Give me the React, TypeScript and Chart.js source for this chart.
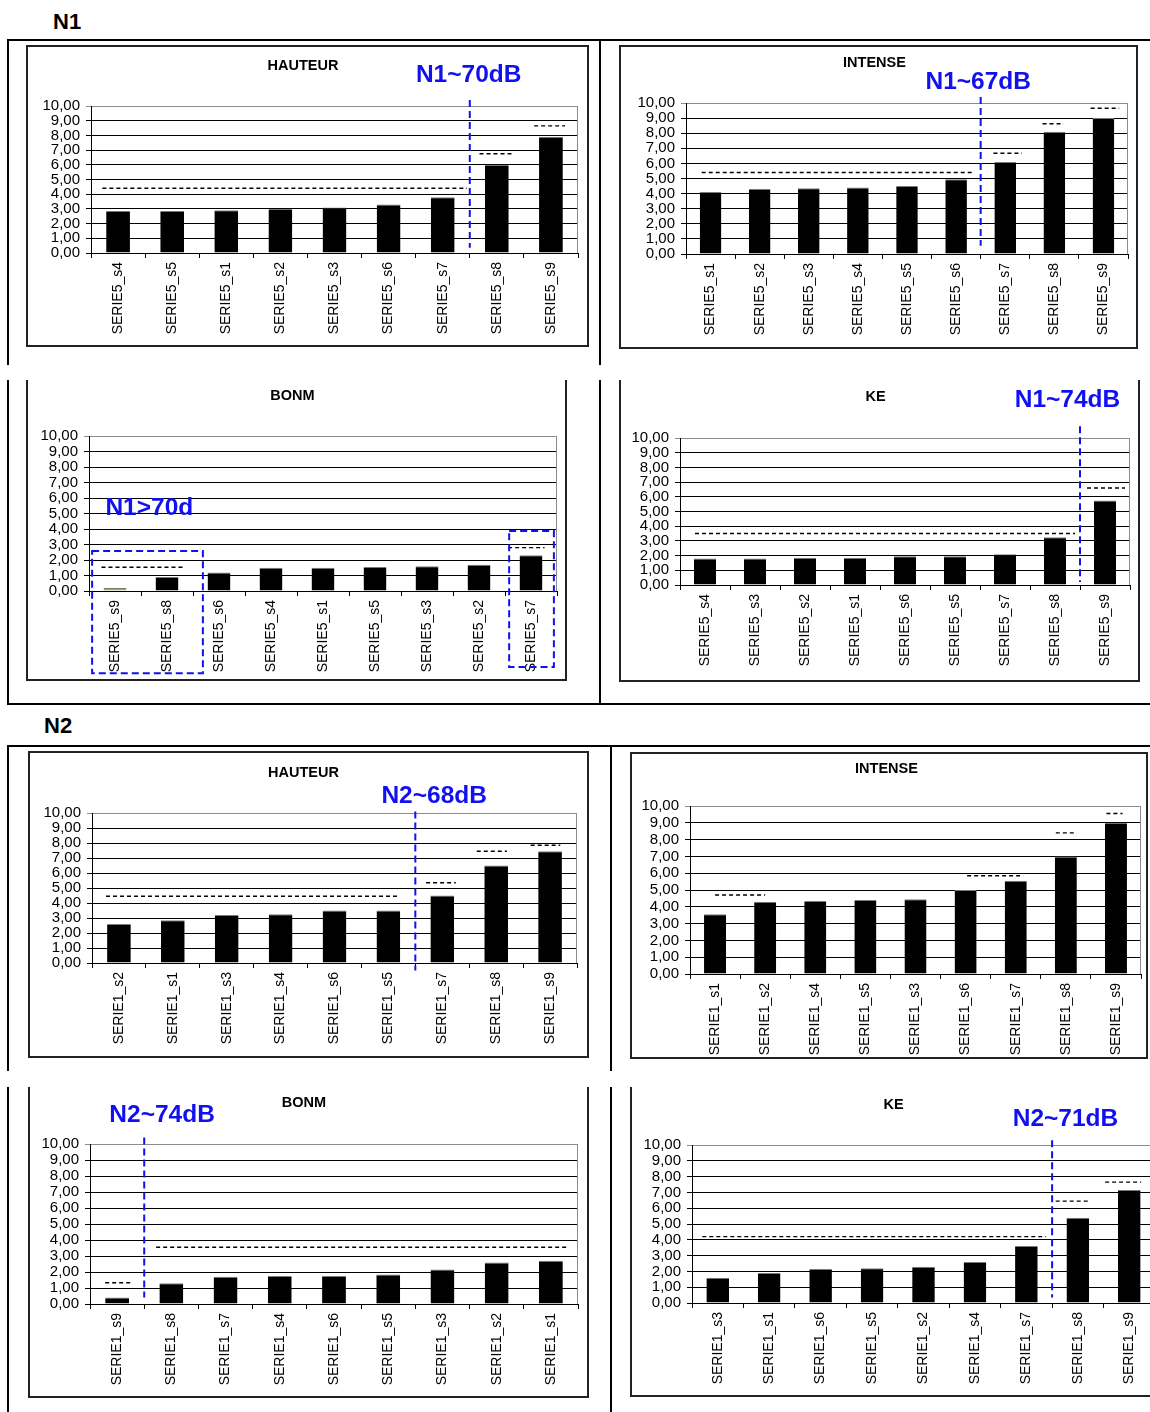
import React, { useEffect, useRef } from "react";
import { Chart, registerables } from "chart.js";
Chart.register(...registerables);

const FONT = "'Liberation Sans', Arial, Helvetica, sans-serif";

// ---------------- data ----------------
const Y_MIN = 0;
const Y_MAX = 10;
const Y_STEP = 1;

// N1 – HAUTEUR
const N1_HAUTEUR_LABELS = ["SERIE5_s4", "SERIE5_s5", "SERIE5_s1", "SERIE5_s2", "SERIE5_s3", "SERIE5_s6", "SERIE5_s7", "SERIE5_s8", "SERIE5_s9"];
const N1_HAUTEUR_VALUES = [2.85, 2.85, 2.9, 3.0, 3.1, 3.3, 3.8, 6.0, 7.9];
const N1_HAUTEUR_MEANS: [number, number, number][] = [[0.21, 6.95, 4.4], [7.18, 7.77, 6.75], [8.19, 8.76, 8.65]];
const N1_HAUTEUR_CUT = 7;
const N1_HAUTEUR_NOTE = "N1~70dB";

// N1 – INTENSE
const N1_INTENSE_LABELS = ["SERIE5_s1", "SERIE5_s2", "SERIE5_s3", "SERIE5_s4", "SERIE5_s5", "SERIE5_s6", "SERIE5_s7", "SERIE5_s8", "SERIE5_s9"];
const N1_INTENSE_VALUES = [4.1, 4.3, 4.35, 4.4, 4.5, 4.95, 6.1, 8.1, 9.0];
const N1_INTENSE_MEANS: [number, number, number][] = [[0.32, 5.82, 5.4], [6.26, 6.84, 6.67], [7.26, 7.69, 8.63], [8.24, 8.82, 9.65]];
const N1_INTENSE_CUT = 6;
const N1_INTENSE_NOTE = "N1~67dB";

// N1 – BONM
const N1_BONM_LABELS = ["SERIE5_s9", "SERIE5_s8", "SERIE5_s6", "SERIE5_s4", "SERIE5_s1", "SERIE5_s5", "SERIE5_s3", "SERIE5_s2", "SERIE5_s7"];
const N1_BONM_VALUES = [0.2, 0.9, 1.2, 1.5, 1.5, 1.55, 1.6, 1.7, 2.3];
const N1_BONM_COLORS = ["#a3b32a", "#000", "#000", "#000", "#000", "#000", "#000", "#000", "#000"];
const N1_BONM_MEANS: [number, number, number][] = [[0.24, 1.81, 1.53], [8.06, 8.76, 2.8]];
const N1_BONM_NOTE = "N1>70d";

// N1 – KE
const N1_KE_LABELS = ["SERIE5_s4", "SERIE5_s3", "SERIE5_s2", "SERIE5_s1", "SERIE5_s6", "SERIE5_s5", "SERIE5_s7", "SERIE5_s8", "SERIE5_s9"];
const N1_KE_VALUES = [1.8, 1.8, 1.85, 1.85, 1.95, 1.95, 2.1, 3.25, 5.75];
const N1_KE_MEANS: [number, number, number][] = [[0.3, 7.9, 3.5], [8.14, 8.9, 6.6]];
const N1_KE_CUT = 8;
const N1_KE_NOTE = "N1~74dB";

// N2 – HAUTEUR
const N2_HAUTEUR_LABELS = ["SERIE1_s2", "SERIE1_s1", "SERIE1_s3", "SERIE1_s4", "SERIE1_s6", "SERIE1_s5", "SERIE1_s7", "SERIE1_s8", "SERIE1_s9"];
const N2_HAUTEUR_VALUES = [2.6, 2.85, 3.2, 3.25, 3.5, 3.5, 4.5, 6.5, 7.45];
const N2_HAUTEUR_MEANS: [number, number, number][] = [[0.26, 5.69, 4.45], [6.2, 6.75, 5.35], [7.14, 7.7, 7.45], [8.14, 8.69, 7.85]];
const N2_HAUTEUR_CUT = 6;
const N2_HAUTEUR_NOTE = "N2~68dB";

// N2 – INTENSE
const N2_INTENSE_LABELS = ["SERIE1_s1", "SERIE1_s2", "SERIE1_s4", "SERIE1_s5", "SERIE1_s3", "SERIE1_s6", "SERIE1_s7", "SERIE1_s8", "SERIE1_s9"];
const N2_INTENSE_VALUES = [3.55, 4.3, 4.35, 4.4, 4.45, 5.0, 5.55, 7.0, 9.0];
const N2_INTENSE_MEANS: [number, number, number][] = [[0.5, 1.5, 4.7], [5.53, 6.65, 5.85], [7.3, 7.72, 8.4], [8.31, 8.63, 9.55]];

// N2 – BONM
const N2_BONM_LABELS = ["SERIE1_s9", "SERIE1_s8", "SERIE1_s7", "SERIE1_s4", "SERIE1_s6", "SERIE1_s5", "SERIE1_s3", "SERIE1_s2", "SERIE1_s1"];
const N2_BONM_VALUES = [0.4, 1.3, 1.7, 1.75, 1.75, 1.85, 2.15, 2.6, 2.7];
const N2_BONM_MEANS: [number, number, number][] = [[0.28, 0.79, 1.33], [1.22, 8.82, 3.55]];
const N2_BONM_CUT = 1;
const N2_BONM_NOTE = "N2~74dB";

// N2 – KE
const N2_KE_LABELS = ["SERIE1_s3", "SERIE1_s1", "SERIE1_s6", "SERIE1_s5", "SERIE1_s2", "SERIE1_s4", "SERIE1_s7", "SERIE1_s8", "SERIE1_s9"];
const N2_KE_VALUES = [1.6, 1.9, 2.15, 2.2, 2.3, 2.6, 3.6, 5.4, 7.15];
const N2_KE_MEANS: [number, number, number][] = [[0.2, 6.88, 4.2], [7.07, 7.73, 6.45], [8.03, 8.73, 7.65]];
const N2_KE_CUT = 7;
const N2_KE_NOTE = "N2~71dB";

// ---------------- chart specs (layout) ----------------
interface Spec {
  title: string;
  labels: string[];
  values: number[];
  colors?: string[];
  means: [number, number, number][];
  cut?: number;
  cutRange?: [number, number];
  note?: { text: string; u: number; v: number };
  rects?: [number, number, number, number][];
  box: [number, number, number, number];
  openTop: boolean;
  plot: [number, number, number, number];
  titleY: number;
  titleX?: number;
}

const SPECS: Spec[] = [
  {
    title: "HAUTEUR", labels: N1_HAUTEUR_LABELS, values: N1_HAUTEUR_VALUES, means: N1_HAUTEUR_MEANS,
    cut: N1_HAUTEUR_CUT, cutRange: [0.35, 10.4], note: { text: N1_HAUTEUR_NOTE, u: 6.98, v: 12.1 },
    box: [26, 45, 589, 347], openTop: false, plot: [91, 106, 578, 253], titleY: 66,
  },
  {
    title: "INTENSE", labels: N1_INTENSE_LABELS, values: N1_INTENSE_VALUES, means: N1_INTENSE_MEANS,
    cut: N1_INTENSE_CUT, cutRange: [0.55, 10.4], note: { text: N1_INTENSE_NOTE, u: 5.95, v: 11.4 },
    box: [619, 45, 1138, 349], openTop: false, plot: [686, 103, 1128, 254], titleY: 63,
  },
  {
    title: "BONM", labels: N1_BONM_LABELS, values: N1_BONM_VALUES, colors: N1_BONM_COLORS, means: N1_BONM_MEANS,
    note: { text: N1_BONM_NOTE, u: 1.16, v: 5.35 },
    rects: [[0.06, 2.19, -5.3, 2.58], [8.08, 8.94, -4.9, 3.87]],
    box: [26, 380, 567, 681], openTop: true, plot: [89, 436, 557, 591], titleY: 396,
  },
  {
    title: "KE", labels: N1_KE_LABELS, values: N1_KE_VALUES, means: N1_KE_MEANS,
    cut: N1_KE_CUT, cutRange: [0.2, 10.8], note: { text: N1_KE_NOTE, u: 7.75, v: 12.6 },
    box: [619, 380, 1140, 682], openTop: true, plot: [680, 438, 1130, 585], titleY: 397,
  },
  {
    title: "HAUTEUR", labels: N2_HAUTEUR_LABELS, values: N2_HAUTEUR_VALUES, means: N2_HAUTEUR_MEANS,
    cut: N2_HAUTEUR_CUT, cutRange: [-0.5, 10.1], note: { text: N2_HAUTEUR_NOTE, u: 6.35, v: 11.1 },
    box: [28, 751, 589, 1058], openTop: false, plot: [92, 813, 577, 963], titleY: 773,
  },
  {
    title: "INTENSE", labels: N2_INTENSE_LABELS, values: N2_INTENSE_VALUES, means: N2_INTENSE_MEANS,
    box: [630, 752, 1148, 1059], openTop: false, plot: [690, 806, 1141, 974], titleY: 769,
  },
  {
    title: "BONM", labels: N2_BONM_LABELS, values: N2_BONM_VALUES, means: N2_BONM_MEANS,
    cut: N2_BONM_CUT, cutRange: [0.4, 10.4], note: { text: N2_BONM_NOTE, u: 1.33, v: 11.8 },
    box: [28, 1087, 589, 1398], openTop: true, plot: [90, 1144, 578, 1304], titleY: 1103,
  },
  {
    title: "KE", labels: N2_KE_LABELS, values: N2_KE_VALUES, means: N2_KE_MEANS,
    cut: N2_KE_CUT, cutRange: [0.35, 10.3], note: { text: N2_KE_NOTE, u: 7.26, v: 11.6 },
    box: [630, 1087, 1170, 1397], openTop: true, plot: [692, 1145, 1155, 1303], titleY: 1105,
  },
];

// frame lines of the page: [left, top, width, height]
const FRAME_LINES: [number, number, number, number][] = [
  [7, 39, 1143, 2], [7, 39, 2, 326], [7, 380, 2, 325], [599, 39, 2, 326], [599, 380, 2, 325], [7, 703, 1143, 2],
  [7, 745, 1143, 2], [7, 745, 2, 326], [7, 1087, 2, 325], [610, 745, 2, 326], [610, 1087, 2, 325],
];

// ---------------- overlay plugin ----------------
const overlayPlugin = {
  id: "overlay",
  afterDatasetsDraw(chart: any, _args: any, opts: any) {
    const { ctx, chartArea, scales } = chart;
    const xs = scales.x;
    const ys = scales.y;
    const w = xs.getPixelForValue(1) - xs.getPixelForValue(0);
    const xu = (u: number) => xs.getPixelForValue(0) + (u - 0.5) * w;
    ctx.save();
    // plot-area right border (grey)
    ctx.setLineDash([]);
    ctx.strokeStyle = "#8c8c8c";
    ctx.lineWidth = 1;
    ctx.beginPath();
    ctx.moveTo(Math.round(chartArea.right) - 0.5, chartArea.top);
    ctx.lineTo(Math.round(chartArea.right) - 0.5, chartArea.bottom);
    ctx.stroke();
    // mean lines
    ctx.strokeStyle = "#000";
    ctx.lineWidth = 1.4;
    ctx.setLineDash([4, 3]);
    for (const [a, b, v] of opts.means || []) {
      const y = ys.getPixelForValue(v);
      ctx.beginPath();
      ctx.moveTo(xu(a), y);
      ctx.lineTo(xu(b), y);
      ctx.stroke();
    }
    // blue divider
    ctx.strokeStyle = "#1010f0";
    ctx.lineWidth = 2;
    ctx.setLineDash([7, 4]);
    if (opts.cut !== undefined && opts.cutRange) {
      const x = xu(opts.cut);
      ctx.beginPath();
      ctx.moveTo(x, ys.getPixelForValue(opts.cutRange[1]));
      ctx.lineTo(x, ys.getPixelForValue(opts.cutRange[0]));
      ctx.stroke();
    }
    for (const [a, b, v0, v1] of opts.rects || []) {
      const x0 = xu(a), x1 = xu(b);
      const y0 = ys.getPixelForValue(v1), y1 = ys.getPixelForValue(v0);
      ctx.strokeRect(x0, y0, x1 - x0, y1 - y0);
    }
    if (opts.note) {
      ctx.setLineDash([]);
      ctx.fillStyle = "#1010f0";
      ctx.font = `bold 24.5px ${FONT}`;
      ctx.textAlign = "center";
      ctx.textBaseline = "middle";
      ctx.fillText(opts.note.text, xu(opts.note.u), ys.getPixelForValue(opts.note.v));
    }
    ctx.restore();
  },
};

const BW = 2;

function BarChart({ spec }: { spec: Spec }) {
  const ref = useRef<HTMLCanvasElement>(null);
  const [bl, bt, br, bb] = spec.box;
  const cl = bl + BW;
  const ct = bt + (spec.openTop ? 0 : BW);
  const cw = br - BW - cl;
  const ch = bb - BW - ct;

  useEffect(() => {
    const canvas = ref.current;
    if (!canvas) return;
    const [pl, pt, pr, pb] = spec.plot;
    const yW = pl - cl;
    const padR = cl + cw - pr;
    const xH = ct + ch - pb;
    const TS = 14.5;
    const lh = TS * 1.2;
    const tTop = spec.titleY - ct - lh / 2;
    const tBot = pt - ct - tTop - lh;
    const chart = new Chart(canvas, {
      type: "bar",
      data: {
        labels: spec.labels,
        datasets: [
          {
            data: spec.values,
            backgroundColor: spec.colors || "#000",
            borderColor: "#7a7a7a",
            borderWidth: { top: 1, left: 0, right: 0, bottom: 0 },
            borderSkipped: false,
            barPercentage: 0.44,
            categoryPercentage: 1,
          } as any,
        ],
      },
      options: {
        responsive: false,
        animation: false,
        layout: { padding: { left: 0, right: padR, top: 0, bottom: 0 } },
        plugins: {
          legend: { display: false },
          tooltip: { enabled: false },
          title: {
            display: true,
            text: spec.title,
            color: "#000",
            font: { family: FONT, size: TS, weight: "bold", lineHeight: 1.2 },
            padding: { top: tTop, bottom: tBot },
          },
          overlay: {
            means: spec.means,
            cut: spec.cut,
            cutRange: spec.cutRange,
            note: spec.note,
            rects: spec.rects,
          },
        } as any,
        scales: {
          x: {
            grid: { display: true, drawOnChartArea: false, drawTicks: true, tickLength: 5, color: "#000", offset: true },
            border: { display: true, color: "#000", width: 1 },
            ticks: {
              autoSkip: false,
              minRotation: 90,
              maxRotation: 90,
              padding: 4,
              color: "#000",
              font: { family: FONT, size: 14 },
            },
            afterFit: (s: any) => {
              s.height = xH;
            },
          },
          y: {
            min: Y_MIN,
            max: Y_MAX,
            grid: {
              color: (c: any) => (c.tick && c.tick.value === Y_MAX ? "#8c8c8c" : "#000"),
              lineWidth: 1,
              drawTicks: true,
              tickLength: 5,
            },
            border: { display: true, color: "#000", width: 1 },
            ticks: {
              stepSize: Y_STEP,
              autoSkip: false,
              padding: 6,
              color: "#000",
              font: { family: FONT, size: 15 },
              callback: (v: any) => Number(v).toFixed(2).replace(".", ","),
            },
            afterFit: (s: any) => {
              s.width = yW;
            },
          },
        },
      } as any,
      plugins: [overlayPlugin],
    });
    return () => chart.destroy();
  }, [spec]);

  return (
    <div
      style={{
        position: "absolute",
        left: bl,
        top: bt,
        width: br - bl,
        height: bb - bt,
        boxSizing: "border-box",
        borderLeft: `${BW}px solid #222`,
        borderRight: `${BW}px solid #222`,
        borderBottom: `${BW}px solid #222`,
        borderTop: spec.openTop ? "none" : `${BW}px solid #222`,
        background: "#fff",
      }}
    >
      <canvas ref={ref} width={cw} height={ch} style={{ display: "block", width: cw, height: ch }} />
    </div>
  );
}

export default function App() {
  return (
    <div
      style={{
        position: "absolute",
        left: 0,
        top: 0,
        width: 1150,
        height: 1412,
        overflow: "hidden",
        background: "#fff",
        fontFamily: FONT,
      }}
    >
      <div style={{ position: "absolute", left: 53, top: 11, fontSize: 22, fontWeight: "bold", lineHeight: "22px" }}>N1</div>
      <div style={{ position: "absolute", left: 44, top: 715, fontSize: 22, fontWeight: "bold", lineHeight: "22px" }}>N2</div>
      {FRAME_LINES.map(([l, t, w, h], i) => (
        <div key={i} style={{ position: "absolute", left: l, top: t, width: w, height: h, background: "#000" }} />
      ))}
      {SPECS.map((s, i) => (
        <BarChart key={i} spec={s} />
      ))}
    </div>
  );
}
